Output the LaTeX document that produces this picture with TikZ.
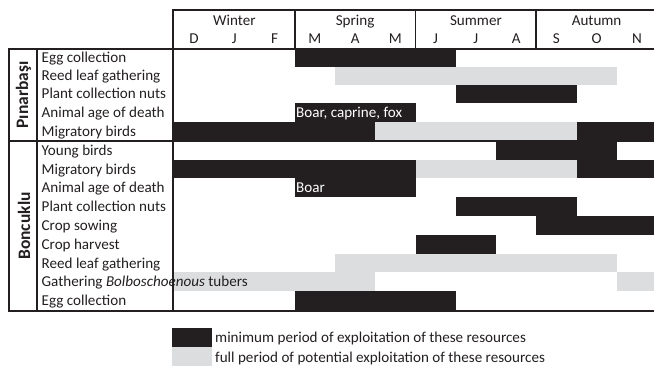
\documentclass[tikz,border=0pt]{standalone}
\usepackage{fontspec}
\setmainfont{Carlito}
\definecolor{ink}{HTML}{231F20}
\definecolor{lightgrey}{HTML}{DCDDDE}
\newcommand\mybar[5]{\fill[#5] ({174+40.25*#3},#1) rectangle ({174+40.25*#4},#2);}
\begin{document}
\begin{tikzpicture}[x=1pt,y=-1pt,
  blk/.style={fill=ink},
  gry/.style={fill=lightgrey},
  rule/.style={draw=ink,line width=1.6pt,line cap=rect},
  lbl/.style={anchor=base west,inner sep=0pt,font=\fontsize{15.1}{17}\selectfont,text=ink},
  hdr/.style={anchor=base,inner sep=0pt,font=\fontsize{15.1}{17}\selectfont,text=ink},
  grp/.style={rotate=90,inner sep=0pt,font=\fontsize{17.5}{19}\selectfont\bfseries,text=ink},
  inbar/.style={lbl,text=white}]
\useasboundingbox (0,0) rectangle (654,368);
% ---- Pinarbasi bars
\mybar{49}{66.8}{3}{7}{blk}
\mybar{66.8}{84.5}{4}{11}{gry}
\mybar{84.5}{103}{7}{10}{blk}
\mybar{103}{121.9}{3}{6}{blk}
\mybar{121.9}{140.8}{0}{5}{blk}
\mybar{121.9}{140.8}{5}{10}{gry}
\mybar{121.9}{140.8}{10}{12}{blk}
% ---- Boncuklu bars
\mybar{140.8}{159.6}{8}{11}{blk}
\mybar{159.6}{178.4}{0}{6}{blk}
\mybar{159.6}{178.4}{6}{10}{gry}
\mybar{159.6}{178.4}{10}{12}{blk}
\mybar{178.4}{197.2}{3}{6}{blk}
\mybar{197.2}{216}{7}{10}{blk}
\mybar{216}{234.8}{9}{12}{blk}
\mybar{234.8}{253.6}{6}{8}{blk}
\mybar{253.6}{272.4}{4}{11}{gry}
\mybar{272.4}{291.2}{0}{5}{gry}
\mybar{272.4}{291.2}{11}{12}{gry}
\mybar{291.2}{310}{3}{7}{blk}
% ---- rules
\draw[rule] (173,10) -- (654,10);
\draw[rule] (8.7,49) -- (654,49);
\draw[rule] (8.7,140.8) -- (654,140.8);
\draw[rule] (8.7,311) -- (654,311);
\draw[rule] (173,10) -- (173,311);
\draw[rule] (37,49) -- (37,311);
\draw[rule] (8.7,49) -- (8.7,311);
\draw[rule] (294.75,10) -- (294.75,49);
\draw[rule] (415.5,10) -- (415.5,49);
\draw[rule] (536.25,10) -- (536.25,49);
% ---- header
\node[hdr] (sw) at (234.4,25.5) {Winter};
\node[hdr] (ssp) at (355.1,25.5) {Spring};
\node[hdr] (ssu) at (475.9,25.5) {Summer};
\node[hdr] (sau) at (596.6,25.5) {Autumn};
\foreach \t [count=\i from 0] in {D,J,F,M,A,M,J,J,A,S,O,N}
  \node[hdr] (m\i) at ({174+40.25*(\i+0.5)},43) {\t};
% ---- group labels
\node[grp] (gp) at (23.5,94.9) {Pınarbaşı};
\node[grp] (gb) at (24,226) {Boncuklu};
% ---- row labels
\node[lbl] (p1) at (41.5,62.9) {Egg collection};
\node[lbl] (p2) at (41.5,80.7) {Reed leaf gathering};
\node[lbl] (p3) at (41.5,98.8) {Plant collection nuts};
\node[lbl] (p4) at (41.5,117.5) {Animal age of death};
\node[lbl] (p5) at (41.5,136.4) {Migratory birds};
\node[lbl] (b1) at (41.5,155.2) {Young birds};
\node[lbl] (b2) at (41.5,174) {Migratory birds};
\node[lbl] (b3) at (41.5,192.8) {Animal age of death};
\node[lbl] (b4) at (41.5,211.6) {Plant collection nuts};
\node[lbl] (b5) at (41.5,230.4) {Crop sowing};
\node[lbl] (b6) at (41.5,249.2) {Crop harvest};
\node[lbl] (b7) at (41.5,268) {Reed leaf gathering};
\node[lbl] (b8) at (41.5,286.8) {Gathering \textit{Bolboschoenous} tubers};
\node[lbl] (b9) at (41.5,305.6) {Egg collection};
% ---- text in bars
\node[inbar] (t1) at (296,117.5) {Boar, caprine, fox};
\node[inbar] (t2) at (296,192.8) {Boar};
% ---- legend
\fill[blk] (172,328) rectangle (212,347);
\fill[gry] (172,347) rectangle (212,366);
\node[lbl] (l1) at (215,342) {minimum period of exploitation of these resources};
\node[lbl] (l2) at (215,362) {full period of potential exploitation of these resources};
\end{tikzpicture}
\end{document}
